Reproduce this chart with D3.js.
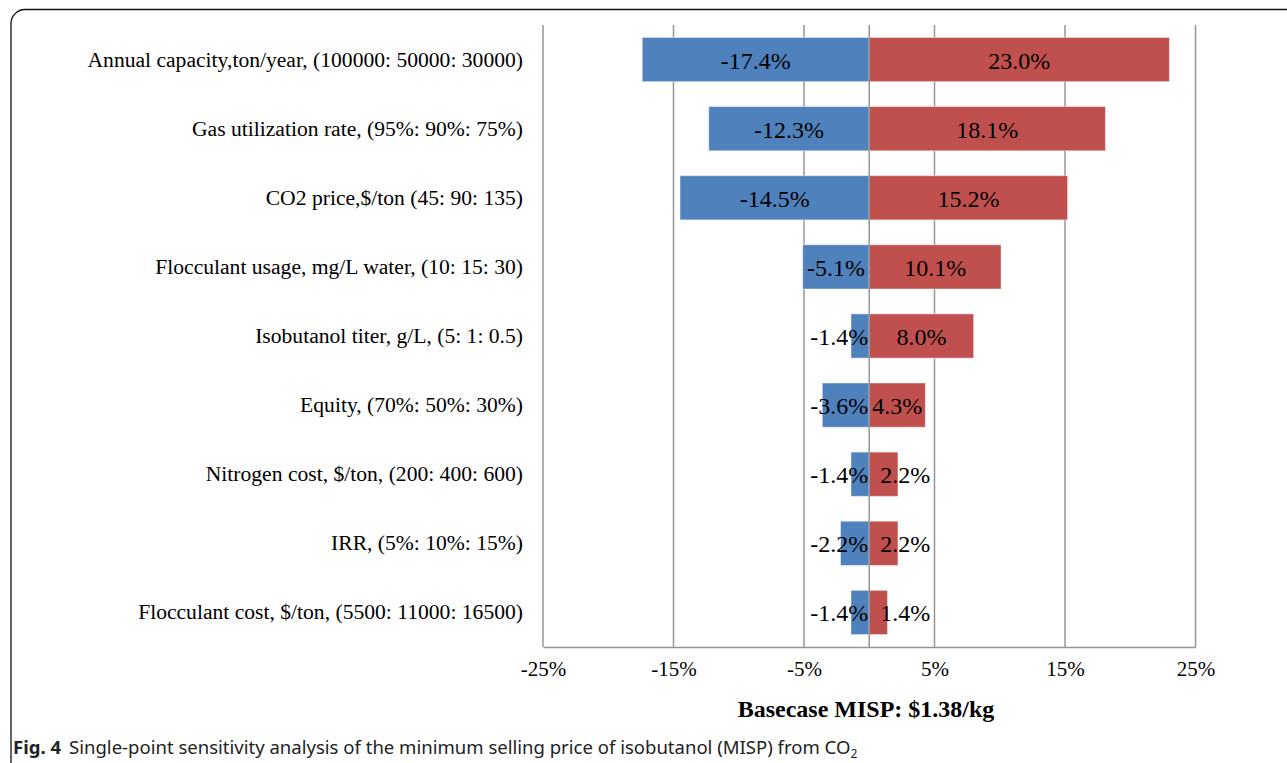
<!DOCTYPE html>
<html>
<head>
<meta charset="utf-8">
<script src="https://cdn.jsdelivr.net/npm/d3@7"></script>
<style>
  html, body { margin: 0; padding: 0; background: #fff; }
  svg { display: block; }
</style>
</head>
<body>
<svg id="chart" width="1287" height="763"></svg>
<script>
const categories = [
  "Annual capacity,ton/year, (100000: 50000: 30000)",
  "Gas utilization rate, (95%: 90%: 75%)",
  "CO2 price,$/ton (45: 90: 135)",
  "Flocculant usage, mg/L water, (10: 15: 30)",
  "Isobutanol titer, g/L, (5: 1: 0.5)",
  "Equity, (70%: 50%: 30%)",
  "Nitrogen cost, $/ton, (200: 400: 600)",
  "IRR, (5%: 10%: 15%)",
  "Flocculant cost, $/ton, (5500: 11000: 16500)"
];
const lowValues  = [-17.4, -12.3, -14.5, -5.1, -1.4, -3.6, -1.4, -2.2, -1.4];
const highValues = [23.0, 18.1, 15.2, 10.1, 8.0, 4.3, 2.2, 2.2, 1.4];
const tickValues = [-25, -15, -5, 5, 15, 25];
const axisTitle = "Basecase MISP: $1.38/kg";
const captionBold = "Fig. 4";
const captionText = "Single-point sensitivity analysis of the minimum selling price of isobutanol (MISP) from CO";

const svg = d3.select("#chart");
const serif = "'Liberation Serif', 'Times New Roman', serif";

// frame
svg.append("rect")
  .attr("x", 11).attr("y", 9.5).attr("width", 1320).attr("height", 800)
  .attr("rx", 14).attr("ry", 14)
  .attr("fill", "none").attr("stroke", "#111").attr("stroke-width", 1.3);

const plot = { left: 543, right: 1195.5, top: 25, bottom: 647 };

const x = d3.scaleLinear().domain([-25, 25]).range([plot.left, plot.right]);
const y = d3.scaleBand().domain(categories).range([plot.top, plot.bottom])
  .paddingInner(0.36).paddingOuter(0.18);

const g = svg.append("g");

// gridlines
g.selectAll("line.grid").data(tickValues).enter().append("line")
  .attr("x1", d => x(d)).attr("x2", d => x(d))
  .attr("y1", plot.top).attr("y2", plot.bottom)
  .attr("stroke", "#969696").attr("stroke-width", 1.5);

// bars
const rows = categories.map((c, i) => ({ c, lo: lowValues[i], hi: highValues[i] }));

g.selectAll("rect.lo").data(rows).enter().append("rect")
  .attr("x", d => x(d.lo)).attr("width", d => x(0) - x(d.lo))
  .attr("y", d => y(d.c)).attr("height", y.bandwidth())
  .attr("fill", "#4F81BD").attr("stroke", "rgba(255,255,255,0.45)").attr("stroke-width", 1);

g.selectAll("rect.hi").data(rows).enter().append("rect")
  .attr("x", x(0)).attr("width", d => x(d.hi) - x(0))
  .attr("y", d => y(d.c)).attr("height", y.bandwidth())
  .attr("fill", "#C0504D").attr("stroke", "rgba(255,255,255,0.45)").attr("stroke-width", 1);

// vertical axis at zero
g.append("line").attr("x1", x(0)).attr("x2", x(0))
  .attr("y1", plot.top).attr("y2", plot.bottom)
  .attr("stroke", "#969696").attr("stroke-width", 1.5);

// bottom axis
const xAxis = d3.axisBottom(x).tickValues(tickValues).tickSize(0).tickPadding(14)
  .tickFormat(d => d + "%");
const axG = g.append("g").attr("transform", `translate(0,${plot.bottom})`).call(xAxis);
axG.select(".domain").attr("stroke", "#969696").attr("stroke-width", 1.5);
axG.attr("font-family", serif).attr("font-size", 21);
axG.selectAll("text").attr("font-family", serif).attr("font-size", 21).attr("fill", "#000");

// category labels
g.selectAll("text.cat").data(categories).enter().append("text")
  .attr("x", 523).attr("y", d => y(d) + y.bandwidth() / 2 + 7)
  .attr("text-anchor", "end")
  .attr("font-family", serif).attr("font-size", 21.6).attr("fill", "#000")
  .text(d => d);

// data labels
function addLabels(key) {
  const sel = g.selectAll("text.lab" + key).data(rows).enter().append("text")
    .attr("y", d => y(d.c) + y.bandwidth() / 2 + 9)
    .attr("text-anchor", "middle")
    .attr("font-family", serif).attr("font-size", 24).attr("fill", "#000")
    .text(d => d[key].toFixed(1) + "%");
  sel.each(function(d) {
    const w = this.getComputedTextLength();
    const x0 = x(0), x1 = x(d[key]);
    const bw = Math.abs(x1 - x0);
    const t = d3.select(this);
    if (w > bw) {
      if (key === "hi") t.attr("text-anchor", "start").attr("x", x0 + 11);
      else t.attr("text-anchor", "end").attr("x", x0 - 1);
    } else {
      t.attr("x", (x0 + x1) / 2);
    }
  });
}
addLabels("lo");
addLabels("hi");

// axis title
svg.append("text")
  .attr("x", 866).attr("y", 717)
  .attr("text-anchor", "middle")
  .attr("font-family", serif).attr("font-weight", "bold").attr("font-size", 24)
  .attr("fill", "#000").text(axisTitle);

// caption
const cap = svg.append("text").attr("x", 13).attr("y", 754)
  .attr("font-family", "'Noto Sans', 'Open Sans', sans-serif").attr("font-size", 18.55).attr("fill", "#222");
cap.append("tspan").attr("font-weight", "bold").text(captionBold);
cap.append("tspan").attr("dx", 8).text(captionText);
cap.append("tspan").attr("font-size", 12).attr("dy", 4).text("2");
</script>
</body>
</html>
